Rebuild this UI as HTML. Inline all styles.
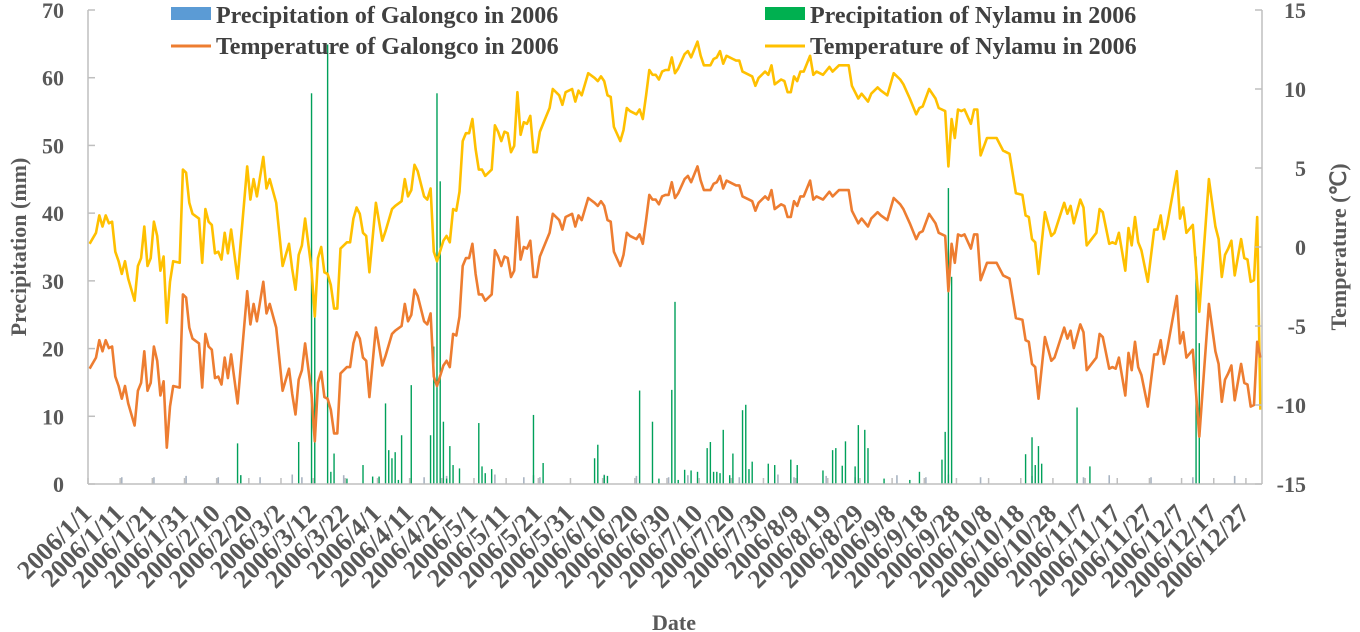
<!DOCTYPE html>
<html><head><meta charset="utf-8"><style>
html,body{margin:0;padding:0;background:#fff;}
svg{display:block;font-family:"Liberation Serif",serif;font-weight:bold;}
</style></head><body>
<svg id="chart" width="1360" height="632" viewBox="0 0 1360 632" xmlns="http://www.w3.org/2000/svg">
<g id="grid"></g>
<g id="bars"></g>
<g id="lines"></g>
<g id="axes"></g>
<g>
 <rect x="171" y="7" width="40" height="13" fill="#5b9bd5"/>
 <text x="216" y="23" font-size="24" fill="#404040">Precipitation of Galongco in 2006</text>
 <line x1="171" y1="46" x2="211" y2="46" stroke="#ed7d31" stroke-width="3"/>
 <text x="216" y="54" font-size="24" fill="#404040">Temperature of Galongco in 2006</text>
 <rect x="765" y="7" width="40" height="13" fill="#00b050"/>
 <text x="810" y="23" font-size="24" fill="#404040">Precipitation of Nylamu in 2006</text>
 <line x1="765" y1="46" x2="805" y2="46" stroke="#ffc000" stroke-width="3"/>
 <text x="810" y="54" font-size="24" fill="#404040">Temperature of Nylamu in 2006</text>
</g>
<text transform="translate(26,247) rotate(-90)" text-anchor="middle" font-size="22" fill="#595959">Precipitation (mm)</text>
<text transform="translate(1346,247) rotate(-90)" text-anchor="middle" font-size="22" fill="#595959">Temperature (℃)</text>
<text x="674" y="630" text-anchor="middle" font-size="22" fill="#595959">Date</text>
</svg>
<script>
const tempDays = [0,2,3,4,5,6,7,8,9,10,11,12,14,15,16,17,18,19,20,21,
22,23,24,25,26,28,29,30,31,32,34,35,36,37,38,39,40,41,42,43,
44,46,49,50,51,52,54,55,56,58,60,62,63,64,65,66,67,69,70,71,
72,73,74,75,76,77,78,80,81,82,83,84,85,86,87,89,91,92,94,95,
97,98,99,100,101,102,104,105,106,107,108,110,111,112,113,114,115,116,117,118,
119,120,121,122,123,125,126,127,128,129,130,131,132,133,134,135,136,137,138,139,
140,141,143,144,146,147,148,150,151,152,153,155,157,158,159,160,161,162,163,165,
166,167,168,170,171,172,173,174,175,176,177,178,179,180,181,182,183,185,186,187,
189,190,191,193,194,195,196,197,198,200,201,202,203,205,206,207,208,210,211,212,
213,215,216,217,218,219,220,221,222,224,225,226,228,230,231,233,236,237,239,240,
242,243,245,246,248,250,252,253,255,257,258,259,261,263,264,266,267,268,269,270,
271,272,274,275,276,277,279,280,282,284,286,288,290,291,292,293,294,295,297,299,
300,303,304,305,306,308,309,310,313,314,315,317,318,319,320,322,323,324,325,326,
327,329,331,332,333,334,335,338,339,340,341,343,345,348,350,351,352,353,354,355,
356,358,359,360,361,362,363,364];
const galongcoTemp = [-7.7,-7.0,-5.9,-6.6,-5.9,-6.4,-6.3,-8.2,-8.8,-9.6,-8.8,-9.9,-11.3,-9.1,-8.6,-6.6,-9.1,-8.6,-6.3,-7.2,
-9.4,-8.5,-12.7,-10.1,-8.8,-8.9,-3.0,-3.2,-5.1,-5.8,-6.1,-8.9,-5.5,-6.3,-6.5,-8.3,-8.2,-8.7,-7.0,-8.3,
-6.8,-9.9,-2.8,-4.9,-3.6,-4.7,-2.2,-4.2,-3.6,-5.1,-9.1,-7.7,-9.3,-10.6,-8.4,-7.8,-6.1,-9.3,-12.3,-8.6,
-7.9,-9.5,-9.6,-10.3,-11.8,-11.8,-8.0,-7.6,-7.6,-6.1,-5.4,-5.8,-7.0,-7.2,-9.5,-5.1,-7.5,-6.9,-5.5,-5.3,
-5.0,-3.6,-4.7,-4.3,-2.7,-3.1,-4.7,-4.9,-4.2,-8.2,-8.8,-7.5,-7.2,-7.6,-5.5,-5.6,-4.4,-1.2,-0.7,-0.7,
0.2,-1.7,-3.0,-3.0,-3.4,-3.0,-0.2,-0.6,-1.2,-0.6,-0.7,-1.9,-1.5,1.9,-0.8,0.0,-0.1,0.4,-1.9,-1.9,
-0.6,-0.1,0.9,2.1,1.7,1.1,1.9,2.1,1.3,2.0,1.7,3.1,2.8,2.6,2.9,2.6,1.7,1.6,-0.3,-1.2,
-0.5,0.9,0.7,0.5,0.8,0.2,1.7,3.3,3.0,3.0,2.7,3.2,3.3,3.3,4.1,3.1,3.4,4.3,4.5,4.1,
5.1,4.2,3.6,3.6,4.0,4.1,4.5,3.7,4.2,4.0,3.9,3.9,3.2,3.0,2.9,2.3,2.8,3.2,3.0,3.6,
2.4,2.7,2.6,1.9,1.9,2.9,2.6,3.2,3.2,4.2,3.0,3.2,3.0,3.5,3.2,3.6,3.6,2.3,1.5,1.8,
1.3,1.8,2.2,2.0,1.7,3.1,2.7,2.4,1.5,0.5,0.9,1.0,2.1,1.5,0.9,0.7,-2.8,0.2,-1.0,0.8,
0.7,0.8,-0.1,0.8,0.8,-2.1,-1.0,-1.0,-1.0,-1.8,-2.0,-4.5,-4.6,-5.9,-6.0,-7.4,-7.6,-9.6,-5.7,-7.2,
-7.0,-5.1,-5.8,-5.3,-6.4,-4.9,-5.4,-7.8,-7.0,-5.5,-5.7,-7.7,-7.6,-7.7,-7.0,-9.4,-6.7,-7.8,-6.0,-7.6,
-8.1,-10.1,-6.8,-6.8,-5.9,-7.4,-6.5,-3.1,-6.1,-5.4,-7.0,-6.5,-12.0,-3.6,-6.6,-7.4,-9.8,-8.4,-8.0,-7.5,
-9.7,-7.4,-8.6,-8.7,-10.1,-10.0,-6.0,-7.0];
const nylamuTemp = [0.2,0.9,2.0,1.3,2.0,1.5,1.6,-0.3,-0.9,-1.7,-0.9,-2.0,-3.4,-1.2,-0.7,1.3,-1.2,-0.7,1.6,0.7,
-1.5,-0.6,-4.8,-2.2,-0.9,-1.0,4.9,4.7,2.8,2.1,1.8,-1.0,2.4,1.6,1.4,-0.4,-0.3,-0.8,0.9,-0.4,
1.1,-2.0,5.1,3.0,4.3,3.2,5.7,3.7,4.3,2.8,-1.2,0.2,-1.4,-2.7,-0.5,0.1,1.8,-1.4,-4.4,-0.7,
0.0,-1.6,-1.7,-2.4,-3.9,-3.9,-0.1,0.3,0.3,1.8,2.5,2.1,0.9,0.7,-1.6,2.8,0.4,1.0,2.4,2.6,
2.9,4.3,3.2,3.6,5.2,4.8,3.2,3.0,3.7,-0.3,-0.9,0.4,0.7,0.3,2.4,2.3,3.5,6.7,7.2,7.2,
8.1,6.2,4.9,4.9,4.5,4.9,7.7,7.3,6.7,7.3,7.2,6.0,6.4,9.8,7.1,7.9,7.8,8.3,6.0,6.0,
7.3,7.8,8.8,10.0,9.6,9.0,9.8,10.0,9.2,9.9,9.6,11.0,10.7,10.5,10.8,10.5,9.6,9.5,7.6,6.7,
7.4,8.8,8.6,8.4,8.7,8.1,9.6,11.2,10.9,10.9,10.6,11.1,11.2,11.2,12.0,11.0,11.3,12.2,12.4,12.0,
13.0,12.1,11.5,11.5,11.9,12.0,12.4,11.6,12.1,11.9,11.8,11.8,11.1,10.9,10.8,10.2,10.7,11.1,10.9,11.5,
10.3,10.6,10.5,9.8,9.8,10.8,10.5,11.1,11.1,12.1,10.9,11.1,10.9,11.4,11.1,11.5,11.5,10.2,9.4,9.7,
9.2,9.7,10.1,9.9,9.6,11.0,10.6,10.3,9.4,8.4,8.8,8.9,10.0,9.4,8.8,8.6,5.1,8.1,6.9,8.7,
8.6,8.7,7.8,8.7,8.7,5.8,6.9,6.9,6.9,6.1,5.9,3.4,3.3,2.0,1.9,0.5,0.3,-1.7,2.2,0.7,
0.9,2.8,2.1,2.6,1.5,3.0,2.5,0.1,0.9,2.4,2.2,0.2,0.3,0.2,0.9,-1.5,1.2,0.1,1.9,0.3,
-0.2,-2.2,1.1,1.1,2.0,0.5,1.4,4.8,1.8,2.5,0.9,1.4,-4.1,4.3,1.3,0.5,-1.9,-0.5,-0.1,0.4,
-1.8,0.5,-0.7,-0.8,-2.2,-2.1,1.9,-10.3];
const nylamuPrecipDays = [46,47,65,69,70,74,75,76,80,85,88,90,92,93,94,95,96,97,100,106,107,108,109,110,111,112,113,115,121,122,123,125,138,141,157,158,160,161,171,175,177,181,182,183,185,187,189,192,193,194,195,196,197,199,200,203,204,205,206,211,213,218,220,228,231,232,234,235,238,239,241,242,247,255,258,265,266,267,268,291,293,294,295,296,307,311,344,345];
const nylamuPrecip = [6.0,1.3,6.2,57.7,24.8,64.9,1.8,4.5,0.8,2.8,1.1,1.1,11.9,5.0,3.8,4.7,0.6,7.2,14.6,7.2,20.3,57.7,44.7,9.2,0.8,5.6,2.8,2.3,9.0,2.6,1.6,2.2,10.2,3.1,3.8,5.8,1.3,1.2,13.8,9.2,0.8,13.9,26.9,0.6,2.1,2.0,1.8,5.3,6.2,1.8,1.8,1.6,8.0,1.3,4.5,10.9,11.7,2.2,3.3,3.0,2.8,3.6,2.8,2.0,5.0,5.3,2.7,6.3,2.6,8.7,8.0,5.3,0.8,0.6,1.8,3.6,7.7,43.7,30.6,4.4,6.9,2.8,5.6,3.0,11.3,2.6,33.6,20.8];
const galongcoPrecipDays = [10,20,30,40,47,53,63,66,79,104,111,126,135,138,140,160,170,180,186,202,214,219,229,238,251,260,267,277,293,309,317,330,343,356];
const galongcoPrecip = [1.0,1.0,1.2,1.0,1.3,1.0,1.4,1.0,1.3,1.0,1.2,1.4,1.0,1.3,1.0,1.4,1.2,1.0,1.3,1.0,1.4,1.0,1.2,1.0,1.3,1.0,1.4,1.0,1.2,1.0,1.3,1.0,1.0,1.2];
const precipTicks = [0,10,20,30,40,50,60,70];
const tempTicks = [-15,-10,-5,0,5,10,15];
const dateLabels = ["2006/1/1","2006/1/11","2006/1/21","2006/1/31","2006/2/10","2006/2/20","2006/3/2","2006/3/12","2006/3/22","2006/4/1","2006/4/11","2006/4/21","2006/5/1","2006/5/11","2006/5/21","2006/5/31","2006/6/10","2006/6/20","2006/6/30","2006/7/10","2006/7/20","2006/7/30","2006/8/9","2006/8/19","2006/8/29","2006/9/8","2006/9/18","2006/9/28","2006/10/8","2006/10/18","2006/10/28","2006/11/7","2006/11/17","2006/11/27","2006/12/7","2006/12/17","2006/12/27"];

const NS = 'http://www.w3.org/2000/svg';
const X0 = 88, X1 = 1262, Y0 = 484, Y1 = 10, NDAYS = 365;
const xDay = d => X0 + (d + 0.5) * (X1 - X0) / NDAYS;
const yP = v => Y0 - (v / 70) * (Y0 - Y1);
const yT = v => Y0 - ((v + 15) / 30) * (Y0 - Y1);
function mk(tag, attrs, parent) { const e = document.createElementNS(NS, tag); for (const k in attrs) e.setAttribute(k, attrs[k]); parent.appendChild(e); return e; }

const axes = document.getElementById('axes');
const bars = document.getElementById('bars');
const lines = document.getElementById('lines');

let e = mk('line', {x1:X0, y1:Y1, x2:X0, y2:Y0, stroke:'#bfbfbf', 'stroke-width':1.5}, axes);


e = mk('line', {x1:X1, y1:Y1, x2:X1, y2:Y0, stroke:'#bfbfbf', 'stroke-width':1.5}, axes);


e = mk('line', {x1:X0, y1:Y0, x2:X1, y2:Y0, stroke:'#bfbfbf', 'stroke-width':1.5}, axes);



precipTicks.forEach(v => {
  const y = yP(v);
  const t = mk('line', {x1:X0, y1:y, x2:X0+7, y2:y, stroke:'#bfbfbf', 'stroke-width':1.5}, axes);
  
  
  const l = mk('text', {x:64, y:y+8, 'text-anchor':'end', 'font-size':22, fill:'#595959'}, axes);
  l.textContent = v;
  
  
});
tempTicks.forEach(v => {
  const y = yT(v);
  const t = mk('line', {x1:X1-7, y1:y, x2:X1, y2:y, stroke:'#bfbfbf', 'stroke-width':1.5}, axes);
  
  
  const l = mk('text', {x:1306, y:y+8, 'text-anchor':'end', 'font-size':22, fill:'#595959'}, axes);
  l.textContent = v;
  
  
});
dateLabels.forEach((s, i) => {
  const x = X0 + i * 10 * (X1 - X0) / NDAYS;
  const t = mk('line', {x1:x, y1:Y0-6, x2:x, y2:Y0, stroke:'#bfbfbf', 'stroke-width':1.5}, axes);
  
  
  const l = mk('text', {transform:`translate(${x+5},${Y0+31}) rotate(-45)`, 'text-anchor':'end', 'font-size':26, fill:'#595959'}, axes);
  l.textContent = s;
  
  
});

galongcoPrecipDays.forEach((d, i) => {
  const y = yP(galongcoPrecip[i]);
  const r = mk('rect', {x:xDay(d)-0.8, y:y, width:1.6, height:Y0-y, fill:'#a9b4c2'}, bars);
  
  
});
nylamuPrecipDays.forEach((d, i) => {
  const y = yP(nylamuPrecip[i]);
  const r = mk('rect', {x:xDay(d)-0.7, y:y, width:1.4, height:Y0-y, fill:'#00a05a'}, bars);
  
  
});

function pathFor(vals) { return tempDays.map((d, i) => (i ? 'L' : 'M') + xDay(d).toFixed(1) + ',' + yT(vals[i]).toFixed(1)).join(''); }
let p = mk('path', {d:pathFor(nylamuTemp), fill:'none', stroke:'#ffc000', 'stroke-width':2.6, 'stroke-linejoin':'round'}, lines);


p = mk('path', {d:pathFor(galongcoTemp), fill:'none', stroke:'#ed7d31', 'stroke-width':2.6, 'stroke-linejoin':'round'}, lines);


</script>
</body></html>
